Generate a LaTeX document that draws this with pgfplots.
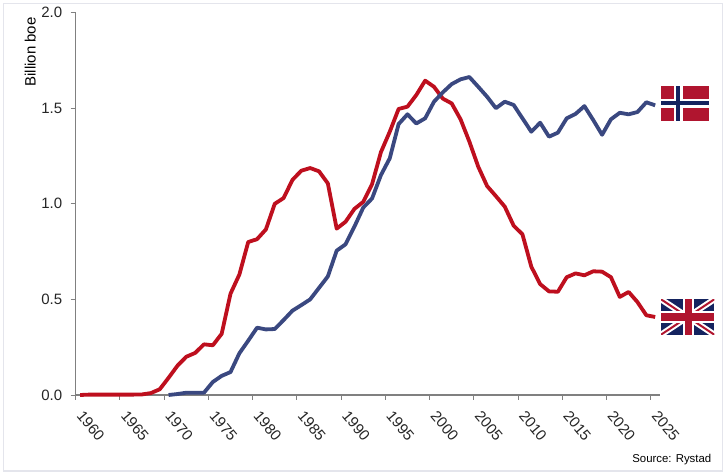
\documentclass[border=0pt]{standalone}
\usepackage{fontspec}
\setmainfont{Liberation Sans}
\usepackage{pgfplots}
\pgfplotsset{compat=1.18}
\definecolor{ukred}{HTML}{BE0F1E}
\definecolor{noblue}{HTML}{3A4880}
\definecolor{axisgray}{HTML}{808080}
\definecolor{framegray}{HTML}{E4E5EC}
\definecolor{flagred}{HTML}{B0152F}
\definecolor{flagnavy}{HTML}{14235F}
\begin{document}
\begin{tikzpicture}[x=1pt,y=1pt]
\path[fill=white] (0,0) rectangle (726,476);
\draw[framegray,line width=1.2pt] (3.5,5) rectangle (722.5,472.5);
\begin{axis}[
    at={(75.7pt,81pt)}, anchor=south west,
    scale only axis, width=583.9pt, height=382.4pt,
    xmin=1959.5, xmax=2025.5, ymin=0, ymax=2,
    axis x line=bottom, axis y line=left,
    axis line style={-,draw=axisgray,line width=1.1pt},
    xtick={1959.5,1964.5,1969.5,1974.5,1979.5,1984.5,1989.5,1994.5,1999.5,2004.5,2009.5,2014.5,2019.5,2024.5},
    xticklabels={1960,1965,1970,1975,1980,1985,1990,1995,2000,2005,2010,2015,2020,2025},
    ytick={0,0.5,1,1.5,2},
    yticklabel style={xshift=-5pt,/pgf/number format/.cd,fixed,fixed zerofill,precision=1,assume math mode=true},
    xticklabel style={rotate=-50,anchor=north west,inner sep=1pt,xshift=11.6pt,yshift=1.4pt},
    tick align=outside, major tick length=5pt,
    tick style={draw=axisgray,line width=0.9pt},
    ticklabel style={font=\fontsize{15}{17}\selectfont,text=black!85},
    ylabel={Billion boe},
    ylabel style={font=\fontsize{15}{17}\selectfont,at={(axis description cs:-0.078,0.897)},anchor=center},
    clip=false,
]
% UK
\addplot[ukred,line width=3.8pt,line join=round] coordinates {
(1960,0) (1961,0.002) (1962,0.002) (1963,0.002) (1964,0.002) (1965,0.002) (1966,0.002) (1967,0.003)
(1968,0.01) (1969,0.03) (1970,0.09) (1971,0.153) (1972,0.20) (1973,0.22) (1974,0.265) (1975,0.26)
(1976,0.32) (1977,0.53) (1978,0.63) (1979,0.80) (1980,0.815) (1981,0.866) (1982,1.0) (1983,1.03)
(1984,1.125) (1985,1.173) (1986,1.187) (1987,1.17) (1988,1.107) (1989,0.87) (1990,0.906) (1991,0.973)
(1992,1.01) (1993,1.103) (1994,1.27) (1995,1.377) (1996,1.496) (1997,1.508) (1998,1.569) (1999,1.644)
(2000,1.612) (2001,1.55) (2002,1.525) (2003,1.442) (2004,1.325) (2005,1.194) (2006,1.093) (2007,1.04)
(2008,0.985) (2009,0.886) (2010,0.84) (2011,0.671) (2012,0.58) (2013,0.542) (2014,0.54) (2015,0.616)
(2016,0.636) (2017,0.626) (2018,0.647) (2019,0.645) (2020,0.616) (2021,0.513) (2022,0.539) (2023,0.486)
(2024,0.417) (2025,0.408)};
% Norway
\addplot[noblue,line width=3.8pt,line join=round] coordinates {
(1970,0) (1971,0.005) (1972,0.012) (1973,0.012) (1974,0.012) (1975,0.068) (1976,0.10) (1977,0.12)
(1978,0.218) (1979,0.284) (1980,0.352) (1981,0.343) (1982,0.345) (1983,0.392) (1984,0.441) (1985,0.47)
(1986,0.50) (1987,0.56) (1988,0.62) (1989,0.755) (1990,0.788) (1991,0.88) (1992,0.98) (1993,1.028)
(1994,1.15) (1995,1.238) (1996,1.417) (1997,1.468) (1998,1.42) (1999,1.447) (2000,1.534) (2001,1.583)
(2002,1.626) (2003,1.651) (2004,1.663) (2005,1.612) (2006,1.56) (2007,1.50) (2008,1.534) (2009,1.517)
(2010,1.447) (2011,1.377) (2012,1.424) (2013,1.351) (2014,1.372) (2015,1.447) (2016,1.47) (2017,1.511)
(2018,1.438) (2019,1.361) (2020,1.442) (2021,1.476) (2022,1.468) (2023,1.48) (2024,1.531) (2025,1.515)};
\end{axis}
% source note and flags, in pixel positions of the picture (y counted from the top)
\node[anchor=east,inner sep=0pt,font=\fontsize{11.4}{13}\selectfont] at (711.5,16.5) {Source: Rystad};
\begin{scope}[shift={(0,476)},y=-1pt]
  % Norway
  \fill[flagred] (660.7,85.7) rectangle (708.7,121);
  \fill[white] (674,85.7) rectangle (682.7,121);
  \fill[white] (660.7,99.3) rectangle (708.7,107.7);
  \fill[flagnavy] (676.3,85.7) rectangle (680.3,121);
  \fill[flagnavy] (660.7,101.3) rectangle (708.7,105.3);
  % UK
  \begin{scope}
    \clip (661,299.3) rectangle (714.3,334.7);
    \fill[flagnavy] (661,299.3) rectangle (714.3,334.7);
    \draw[white,line width=6pt] (661,299.3) -- (714.3,334.7) (661,334.7) -- (714.3,299.3);
    \draw[flagred,line width=2pt] (661,299.3) -- (714.3,334.7) (661,334.7) -- (714.3,299.3);
    \fill[white] (682.5,299.3) rectangle (693.7,334.7);
    \fill[white] (661,310.7) rectangle (714.3,323.2);
    \fill[flagred] (685,299.3) rectangle (691.7,334.7);
    \fill[flagred] (661,313.3) rectangle (714.3,320.6);
  \end{scope}
\end{scope}
\end{tikzpicture}
\end{document}
